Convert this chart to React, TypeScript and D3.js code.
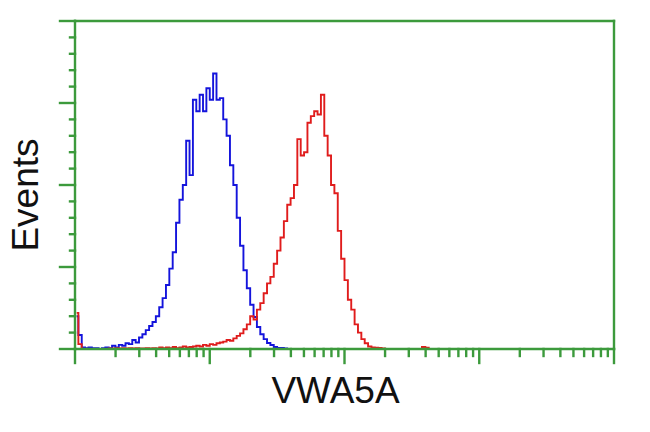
import React from "react";
import * as d3 from "d3";

const N_BINS = 160;
const DECADES = 4;

const blueCounts = [
  20, 8.5, 1, 0.5, 1, 0.5, 0.5, 0, 0.5, 1,
  0.5, 2, 1, 2.5, 2, 3.5, 3, 5.5, 4, 7,
  9, 11.5, 14, 16.5, 20, 25.5, 31, 39, 49, 59,
  77, 91, 100, 127, 106, 152, 145, 155, 145, 159,
  152, 168, 152, 153, 140, 130, 112, 100, 80, 63,
  48, 37, 27, 19.5, 13.4, 9, 6, 3.7, 2.4, 1.2,
  0.6, 0.6, 0.3, 0, 0,
];

const redCounts = [
  22, 3, 0, 0, 0, 0, 0, 0, 0, 0,
  0.3, 0.3, 0.5, 0.3, 0.5, 0.3, 0.5, 0.3, 0.5, 0.3,
  0.3, 0.5, 0.3, 0.5, 0.3, 1, 0.5, 1, 0.5, 1.2,
  0.5, 1, 1.5, 1, 1.2, 1.5, 2, 1.5, 2.5, 2,
  3, 2.5, 3.5, 4, 4.5, 5.5, 5, 6.5, 8, 9.5,
  12, 15, 20, 18, 24, 28, 34, 40, 44, 52,
  60, 68, 78, 88, 92, 100, 128, 118, 120, 138,
  142, 145, 143, 155, 130, 118, 100, 95, 72, 55,
  42, 30, 24, 15, 10, 6, 3.5, 1.5, 1, 0.8,
  0.6, 0.3, 0, 0, 0, 0, 0, 0, 0, 0,
  0, 0, 0, 1.2, 0.8, 0, 0,
];

const yMajorTicks = [0, 50, 100, 150, 200];
const yMinorTicks = [10, 20, 30, 40, 60, 70, 80, 90, 110, 120, 130, 140, 160, 170, 180, 190];
const xMajorTicks = [1, 10, 100, 1000, 10000];
const xMinorMultipliers = [2, 3, 4, 5, 6, 7, 8, 9];

const xLabel = "VWA5A";
const yLabel = "Events";

const W = 650;
const H = 432;
const L = 75, R = 614, T = 21, B = 349;
const GREEN = "#3c9a3c";

export default function App() {
  const x = d3.scaleLog().domain([1, 10000]).range([L, R]);
  const y = d3.scaleLinear().domain([0, 200]).range([B, T]);

  const binCenter = (i: number) => Math.pow(10, ((i + 0.5) * DECADES) / N_BINS);

  const line = d3
    .line<number>()
    .x((_, i) => x(binCenter(i)))
    .y((d) => y(d))
    .curve(d3.curveStep);

  const xMinor: number[] = [];
  xMajorTicks.slice(0, -1).forEach((m) => xMinorMultipliers.forEach((k) => xMinor.push(m * k)));

  return (
    <svg
      width={W}
      height={H}
      style={{ position: "absolute", left: 0, top: 0, background: "#fff", display: "block" }}
    >
      <rect x={0} y={0} width={W} height={H} fill="#fff" />
      <path d={line(blueCounts) || ""} fill="none" stroke="#1414dc" strokeWidth={1.9} />
      <path d={line(redCounts) || ""} fill="none" stroke="#e01c1c" strokeWidth={1.9} />
      <g stroke={GREEN} strokeWidth={2.4} fill="none" strokeLinecap="square">
        <line x1={L} y1={T} x2={R} y2={T} />
        <line x1={R} y1={T} x2={R} y2={B} />
        <line x1={L} y1={T} x2={L} y2={B} />
        <line x1={L} y1={B} x2={R} y2={B} />
        {yMajorTicks.map((t) => (
          <line key={"ym" + t} x1={L - 15} x2={L} y1={y(t)} y2={y(t)} />
        ))}
        {yMinorTicks.map((t) => (
          <line key={"yn" + t} x1={L - 5} x2={L} y1={y(t)} y2={y(t)} />
        ))}
        {xMajorTicks.map((t) => (
          <line key={"xm" + t} x1={x(t)} x2={x(t)} y1={B} y2={B + 14} />
        ))}
        {xMinor.map((t) => (
          <line key={"xn" + t} x1={x(t)} x2={x(t)} y1={B} y2={B + 7} />
        ))}
      </g>
      <text
        x={(L + R) / 2 - 9}
        y={403}
        textAnchor="middle"
        fontFamily="Liberation Sans, Arial, sans-serif"
        fontSize={37}
        fill="#111"
      >
        {xLabel}
      </text>
      <text
        transform={`translate(38, 195) rotate(-90)`}
        textAnchor="middle"
        fontFamily="Liberation Sans, Arial, sans-serif"
        fontSize={37}
        fill="#111"
      >
        {yLabel}
      </text>
    </svg>
  );
}
